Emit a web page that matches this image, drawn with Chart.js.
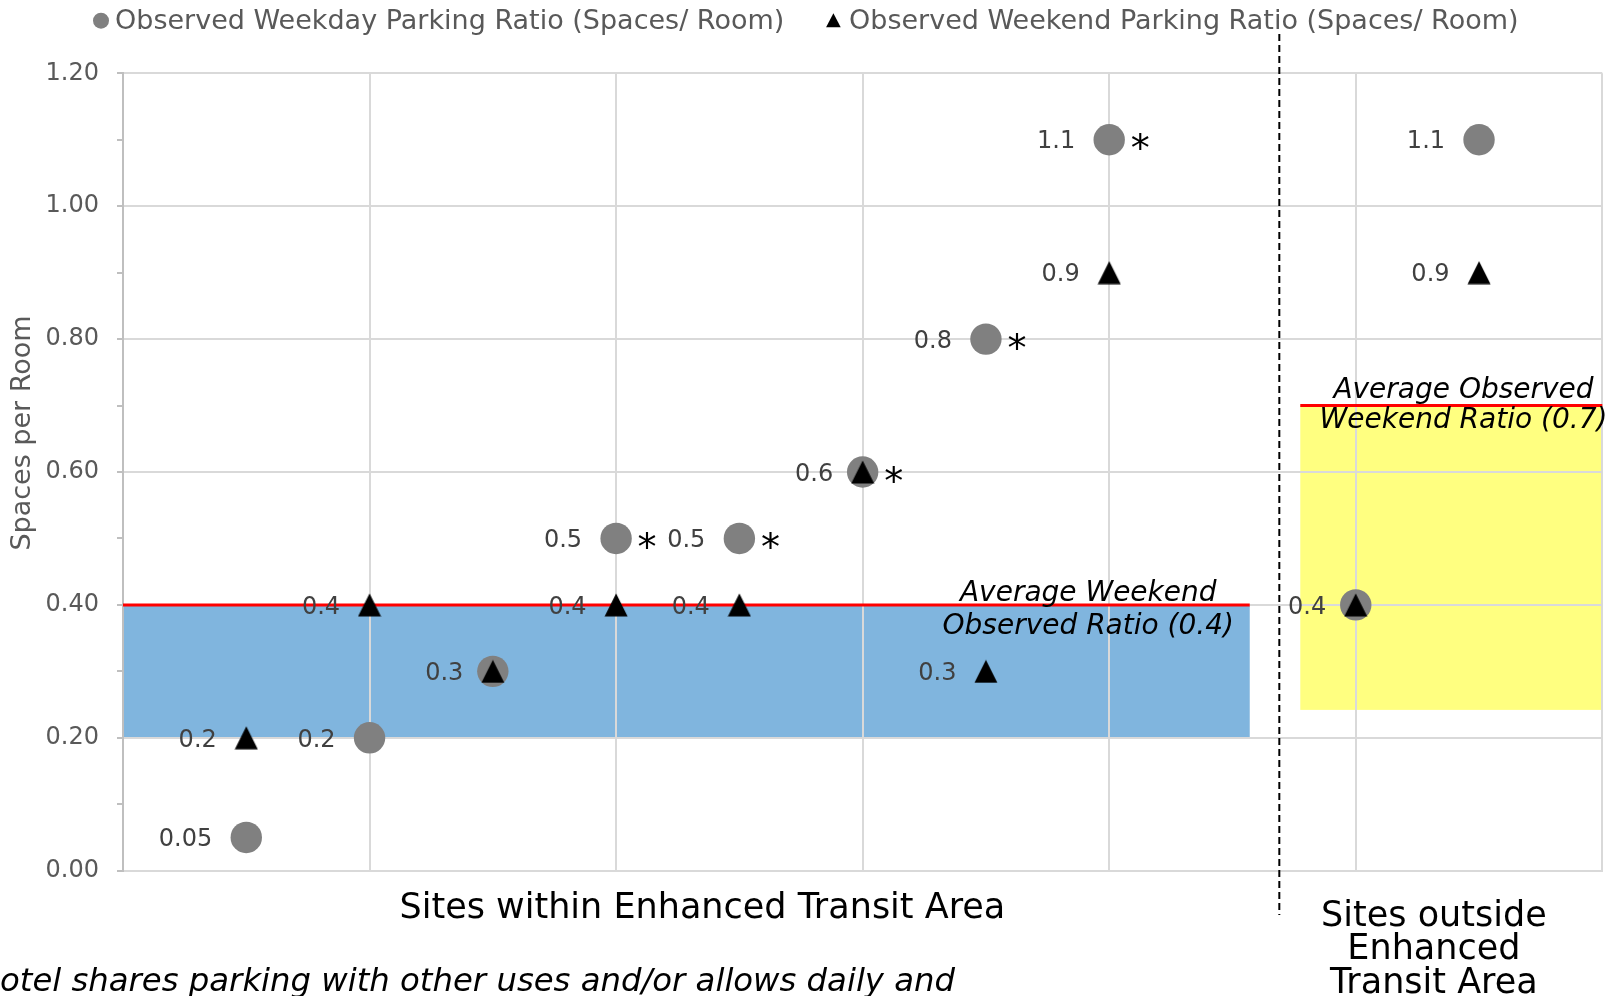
<!DOCTYPE html>
<html>
<head>
  <title>Hotel Parking Ratios</title>
  <style>
    body { margin: 0; background: #fff; }
    #wrap { width: 1618px; height: 996px; }
  </style>
</head>
<body>
<div id="wrap">
  <canvas id="myChart"></canvas>
</div>
<script src="https://cdn.jsdelivr.net/npm/chart.js@4.4.1/dist/chart.umd.min.js"></script>

<script>
  // one x slot per surveyed hotel site (first 8 inside the transit area)
  const siteX = [0.5, 1, 1.5, 2, 2.5, 3, 3.5, 4, 5, 5.5];
  const weekdayRatio = [0.05, 0.2, 0.3, 0.5, 0.5, 0.6, 0.8, 1.1, 0.4, 1.1];
  const weekendRatio = [0.2, 0.4, 0.3, 0.4, 0.4, 0.6, 0.3, 0.9, 0.4, 0.9];
  // * = hotel shares parking / allows daily parking
  const sharedParking = [false, false, false, true, true, true, true, true, false, false];

  const seriesNames = [
    'Observed Weekday Parking Ratio (Spaces/ Room)',
    'Observed Weekend Parking Ratio (Spaces/ Room)'
  ];
  const yTickLabels = ['0.00', '0.20', '0.40', '0.60', '0.80', '1.00', '1.20'];
  const yTitle = 'Spaces per Room';
  const areaNames = ['Sites within Enhanced Transit Area', ['Sites outside', 'Enhanced', 'Transit Area']];
  const footnote = '*Hotel shares parking with other uses and/or allows daily and';

  // weekend averages and the shaded ranges behind them
  const avgWithin = 0.4;
  const avgOutside = 0.7;
  const withinBand = { from: 0, to: 4.57, low: 0.2, high: avgWithin };
  const outsideBand = { from: 4.775, to: 6, low: 0.242, high: avgOutside };
  const areaSplit = 4.69;
  const avgNotes = [
    ['Average Weekend', 'Observed Ratio (0.4)'],
    ['Average Observed', 'Weekend Ratio (0.7)']
  ];

  const FONT = "'DejaVu Sans', Verdana, sans-serif";
  Chart.defaults.font.family = FONT;

  // triangle marker, box-centred on the value
  const tri = document.createElement('canvas');
  tri.width = 24; tri.height = 24;
  const tctx = tri.getContext('2d');
  tctx.fillStyle = '#000';
  tctx.beginPath();
  tctx.moveTo(12, 0.5);
  tctx.lineTo(23.5, 23.5);
  tctx.lineTo(0.5, 23.5);
  tctx.closePath();
  tctx.fill();

  const shading = {
    id: 'shading',
    beforeDraw(chart) {
      const { ctx, scales: { x, y } } = chart;
      ctx.save();
      [[withinBand, '#80B5DE'], [outsideBand, '#FFFF80']].forEach(([b, color]) => {
        const x0 = x.getPixelForValue(b.from), x1 = x.getPixelForValue(b.to);
        const y0 = y.getPixelForValue(b.low), y1 = y.getPixelForValue(b.high);
        ctx.fillStyle = color;
        ctx.fillRect(x0, y1, x1 - x0, y0 - y1);
      });
      ctx.restore();
    },
    beforeDatasetsDraw(chart) {
      const { ctx, scales: { x, y } } = chart;
      ctx.save();
      // average lines
      ctx.strokeStyle = '#FF0000';
      ctx.lineWidth = 3;
      [withinBand, outsideBand].forEach(b => {
        const yy = y.getPixelForValue(b.high);
        ctx.beginPath();
        ctx.moveTo(x.getPixelForValue(b.from), yy);
        ctx.lineTo(x.getPixelForValue(b.to), yy);
        ctx.stroke();
      });
      // split between the two groups of sites
      const sx = x.getPixelForValue(areaSplit);
      ctx.strokeStyle = '#000';
      ctx.lineWidth = 2;
      ctx.setLineDash([7, 4]);
      ctx.beginPath();
      ctx.moveTo(sx, 34);
      ctx.lineTo(sx, 915);
      ctx.stroke();
      ctx.setLineDash([]);
      // average notes
      ctx.fillStyle = '#000';
      ctx.font = 'italic 28px ' + FONT;
      ctx.textAlign = 'center';
      ctx.textBaseline = 'middle';
      const n1x = x.getPixelForValue(3.915), n1y = y.getPixelForValue(avgWithin);
      ctx.fillText(avgNotes[0][0], n1x, n1y - 11);
      ctx.fillText(avgNotes[0][1], n1x, n1y + 22);
      const n2x = x.getPixelForValue(5.437), n2y = y.getPixelForValue(avgOutside);
      ctx.fillText(avgNotes[1][0], n2x, n2y - 15);
      ctx.fillText(avgNotes[1][1], n2x, n2y + 15);
      ctx.restore();
    }
  };

  const pointLabels = {
    id: 'pointLabels',
    afterDatasetsDraw(chart) {
      const ctx = chart.ctx;
      const wk = chart.getDatasetMeta(0).data;
      const we = chart.getDatasetMeta(1).data;
      ctx.save();
      ctx.font = '24px ' + FONT;
      ctx.fillStyle = '#404040';
      ctx.textAlign = 'right';
      ctx.textBaseline = 'middle';
      siteX.forEach((sx, i) => {
        const same = weekdayRatio[i] === weekendRatio[i];
        ctx.fillText(String(weekdayRatio[i]), wk[i].x - (same ? 29.5 : 34), wk[i].y + 2.5);
        if (!same) ctx.fillText(String(weekendRatio[i]), we[i].x - 29.5, we[i].y + 2.5);
      });
      ctx.font = '38px ' + FONT;
      ctx.fillStyle = '#000';
      ctx.textAlign = 'center';
      ctx.textBaseline = 'alphabetic';
      const m = ctx.measureText('*');
      const mid = (m.actualBoundingBoxAscent - m.actualBoundingBoxDescent) / 2;
      siteX.forEach((sx, i) => {
        if (sharedParking[i]) ctx.fillText('*', wk[i].x + 31, wk[i].y + 1.5 + mid);
      });
      ctx.restore();
    }
  };

  const frameText = {
    id: 'frameText',
    afterDraw(chart) {
      const { ctx, scales: { x } } = chart;
      ctx.save();
      // legend
      ctx.font = '27px ' + FONT;
      ctx.fillStyle = '#595959';
      ctx.textBaseline = 'middle';
      ctx.textAlign = 'left';
      ctx.fillText(seriesNames[0], 115, 22);
      ctx.fillText(seriesNames[1], 849, 22);
      ctx.fillStyle = '#808080';
      ctx.beginPath();
      ctx.arc(101, 20.7, 8, 0, Math.PI * 2);
      ctx.fill();
      ctx.fillStyle = '#000';
      ctx.beginPath();
      ctx.moveTo(833.4, 13.3);
      ctx.lineTo(840.7, 27.3);
      ctx.lineTo(826.1, 27.3);
      ctx.closePath();
      ctx.fill();
      // y title
      ctx.save();
      ctx.translate(22.5, 433);
      ctx.rotate(-Math.PI / 2);
      ctx.textAlign = 'center';
      ctx.font = '27px ' + FONT;
      ctx.fillStyle = '#595959';
      ctx.fillText(yTitle, 0, 0);
      ctx.restore();
      // group names under the axis
      ctx.fillStyle = '#000';
      ctx.font = '35px ' + FONT;
      ctx.textAlign = 'center';
      ctx.fillText(areaNames[0], x.getPixelForValue(2.35), 909);
      areaNames[1].forEach((line, k) => {
        ctx.fillText(line, x.getPixelForValue(5.317), 916.5 + k * 33.5);
      });
      // footnote, cut at the left edge as in the source
      ctx.font = 'italic 32.3px ' + FONT;
      ctx.textAlign = 'right';
      ctx.textBaseline = 'alphabetic';
      ctx.fillText(footnote, 955, 991);
      ctx.restore();
    }
  };

  new Chart(document.getElementById('myChart').getContext('2d'), {
    type: 'scatter',
    data: {
      datasets: [{
        label: seriesNames[0],
        data: siteX.map((sx, i) => ({ x: sx, y: weekdayRatio[i] })),
        pointStyle: 'circle',
        pointRadius: 15.7,
        pointHoverRadius: 15.7,
        backgroundColor: '#808080',
        borderWidth: 0,
        order: 1
      }, {
        label: seriesNames[1],
        data: siteX.map((sx, i) => ({ x: sx, y: weekendRatio[i] })),
        pointStyle: tri,
        backgroundColor: '#000',
        borderWidth: 0,
        order: 0
      }]
    },
    options: {
      responsive: true,
      maintainAspectRatio: false,
      animation: false,
      layout: { padding: { top: 73.3, left: 0, right: 14.5, bottom: 105.3 } },
      plugins: {
        legend: { display: false },
        tooltip: { enabled: false }
      },
      scales: {
        x: {
          type: 'linear',
          min: 0,
          max: 6,
          ticks: { stepSize: 1, display: false },
          grid: { color: '#D9D9D9', lineWidth: 2, drawTicks: false },
          border: { color: '#D9D9D9', width: 2 },
          afterFit(scale) { scale.height = 20; }
        },
        y: {
          min: 0,
          max: 1.2,
          ticks: {
            stepSize: 0.1,
            padding: 18,
            color: '#595959',
            font: { size: 24 },
            callback: (v, i) => (i % 2 === 0 ? yTickLabels[i / 2] : '')
          },
          grid: {
            color: ctx => (ctx.index % 2 === 0 ? '#D9D9D9' : 'rgba(0,0,0,0)'),
            tickColor: '#BFBFBF',
            tickLength: 6,
            lineWidth: 2
          },
          border: { color: '#BFBFBF', width: 2 },
          afterFit(scale) { scale.width = 123; }
        }
      }
    },
    plugins: [shading, pointLabels, frameText]
  });
</script>
</body>
</html>
